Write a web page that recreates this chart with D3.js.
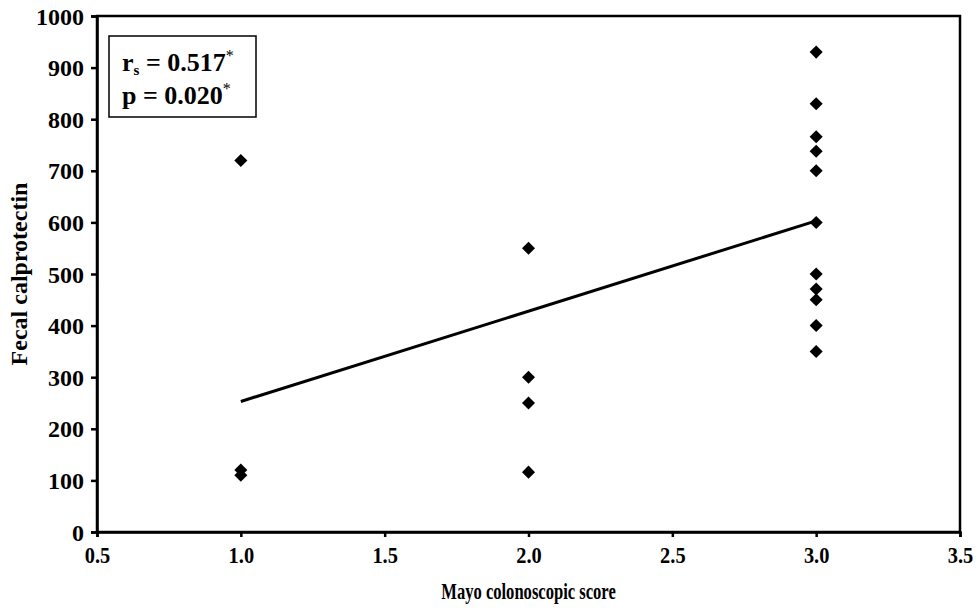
<!DOCTYPE html>
<html>
<head>
<meta charset="utf-8">
<script src="https://cdn.jsdelivr.net/npm/d3@7"></script>
<style>
	body { margin: 0; background: #fff; }
	text { font-family: "Liberation Serif", "Times New Roman", serif; font-weight: bold; }
</style>
</head>
<body>
<script>
// Mayo score of each patient and the matching fecal calprotectin
const mayoScore = [1, 1, 1, 2, 2, 2, 2, 3, 3, 3, 3, 3, 3, 3, 3, 3, 3, 3];
const calprotectin = [720, 120, 110, 550, 300, 250, 116, 930, 830, 766, 738, 700, 600, 500, 471, 450, 400, 350];

// trend line, as drawn in the figure
const trendX = [1, 3];
const trendY = [253, 603];

const xTicks = [0.5, 1.0, 1.5, 2.0, 2.5, 3.0, 3.5];
const yTicks = [0, 100, 200, 300, 400, 500, 600, 700, 800, 900, 1000];

const width = 979, height = 610;
const margin = { top: 16, right: 19, bottom: 78, left: 97 };

const svg = d3.select('body')
	.append('svg')
	.attr('width', width)
	.attr('height', height);

// squeeze text horizontally, the figure's type is narrow
function condense(sel, k) {
	sel.each(function () {
		const w = this.getComputedTextLength();
		d3.select(this)
			.attr('textLength', w * k)
			.attr('lengthAdjust', 'spacingAndGlyphs');
	});
}

const x = d3.scaleLinear().domain([0.5, 3.5]).range([margin.left, width - margin.right]);
const y = d3.scaleLinear().domain([0, 1000]).range([height - margin.bottom, margin.top]);

// frame
svg.append('rect')
	.attr('x', x(0.5))
	.attr('y', y(1000))
	.attr('width', x(3.5) - x(0.5))
	.attr('height', y(0) - y(1000))
	.attr('fill', 'none')
	.attr('stroke', '#000')
	.attr('stroke-width', 2.5);

// axes
const xAxis = svg.append('g')
	.attr('transform', `translate(0, ${y(0)})`)
	.call(d3.axisBottom(x).tickValues(xTicks).tickFormat(d3.format('.1f')).tickSize(5).tickPadding(12));

const yAxis = svg.append('g')
	.attr('transform', `translate(${x(0.5)}, 0)`)
	.call(d3.axisLeft(y).tickValues(yTicks).tickFormat(d3.format('d')).tickSize(6).tickPadding(7));

[xAxis, yAxis].forEach(g => {
	g.select('.domain').attr('stroke-width', 2.5);
	g.selectAll('.tick line').attr('stroke-width', 2.5);
	g.selectAll('.tick text')
		.attr('fill', '#000')
		.style('font-size', '24px');
});
xAxis.selectAll('.tick text').attr('dy', '0.6em').call(condense, 0.85);
yAxis.selectAll('.tick text').attr('dy', '0.34em');

// trend line
svg.append('path')
	.datum(trendX.map((d, i) => [d, trendY[i]]))
	.attr('d', d3.line().x(d => x(d[0])).y(d => y(d[1])))
	.attr('fill', 'none')
	.attr('stroke', '#000')
	.attr('stroke-width', 3);

// points
const diamond = d3.symbol().type(d3.symbolSquare).size(85);
svg.append('g')
	.selectAll('path')
	.data(mayoScore.map((d, i) => [d, calprotectin[i]]))
	.join('path')
	.attr('d', diamond)
	.attr('transform', d => `translate(${x(d[0])}, ${y(d[1])}) rotate(45)`)
	.attr('fill', '#000');

// axis titles
svg.append('text')
	.attr('x', (x(0.5) + x(3.5)) / 2)
	.attr('y', 599)
	.attr('text-anchor', 'middle')
	.style('font-size', '24px')
	.text('Mayo colonoscopic score')
	.call(condense, 0.69);

svg.append('text')
	.attr('transform', `translate(27, ${(y(0) + y(1000)) / 2}) rotate(-90)`)
	.attr('text-anchor', 'middle')
	.style('font-size', '24px')
	.text('Fecal calprotectin');

// stats box
svg.append('rect')
	.attr('x', 109)
	.attr('y', 36)
	.attr('width', 147)
	.attr('height', 81)
	.attr('fill', '#fff')
	.attr('stroke', '#000')
	.attr('stroke-width', 1.5);

const t1 = svg.append('text')
	.attr('x', 122)
	.attr('y', 71)
	.style('font-size', '26px');
t1.append('tspan').text('r');
t1.append('tspan').attr('dy', 4).style('font-size', '15px').text('s');
t1.append('tspan').attr('dy', -4).text(' = 0.517');
t1.append('tspan').attr('dy', -10).style('font-size', '16px').style('font-weight', 'normal').text('*');

const t2 = svg.append('text')
	.attr('x', 122)
	.attr('y', 104)
	.style('font-size', '26px');
t2.append('tspan').text('p = 0.020');
t2.append('tspan').attr('dy', -10).style('font-size', '16px').style('font-weight', 'normal').text('*');
</script>
</body>
</html>
